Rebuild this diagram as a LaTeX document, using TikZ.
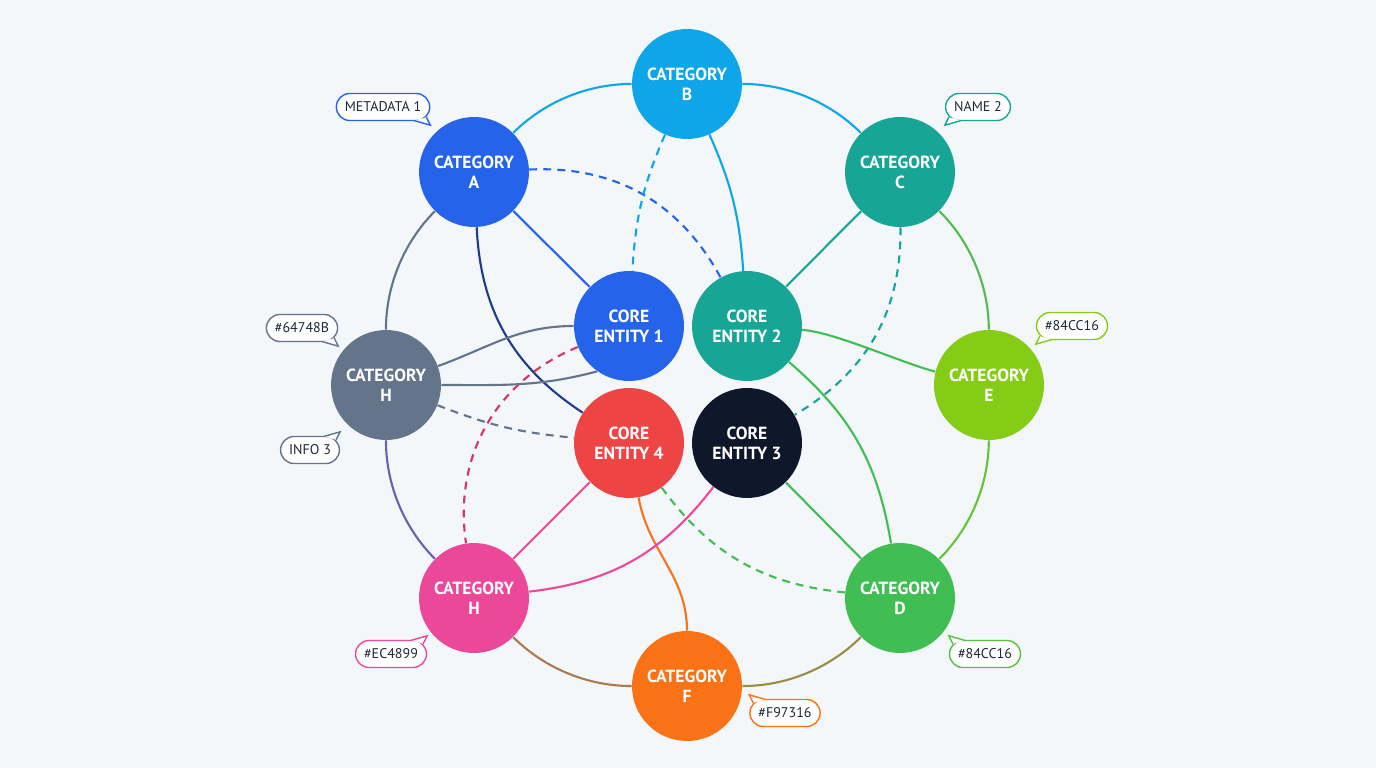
\documentclass[tikz,border=0pt]{standalone}
\usepackage{fontspec}
\setmainfont{PT Sans}
\usetikzlibrary{calc}
\definecolor{bgcolor}{RGB}{243,247,250}
\definecolor{blueA}{HTML}{2563EB}
\definecolor{skyB}{HTML}{0EA5E9}
\definecolor{tealC}{RGB}{23,166,149}
\definecolor{limeE}{HTML}{84CC16}
\definecolor{greenD}{RGB}{64,190,84}
\definecolor{slateH}{HTML}{64748B}
\definecolor{pinkH}{HTML}{EC4899}
\definecolor{orangeF}{HTML}{F97316}
\definecolor{redcore}{HTML}{EF4444}
\definecolor{darkcore}{HTML}{0F172A}
\definecolor{navyline}{HTML}{1E3A8A}
\definecolor{violetline}{RGB}{105,95,175}
\definecolor{crimsonline}{RGB}{214,51,108}
\definecolor{tagtext}{HTML}{1F2937}

% speech tail of a tag: corner anchor, x sign, y sign, colour
\newcommand{\tagtail}[4]{%
  \draw[#4, fill=white, line width=0.8pt] ($(#1)+({-16*(#2)},{-0.6*(#3)})$) -- ($(#1)+(0,{4*(#3)})$) -- ($(#1)+({-4*(#2)},{-4*(#3)})$);}

\begin{document}
\begin{tikzpicture}[
    x=0.02cm, y=0.02cm,
    hub/.style={circle, fill=#1, minimum size=2.2cm, inner sep=0pt, align=center, text=white, font=\bfseries\fontsize{10}{11.5}\selectfont},
    link/.style={draw=#1, line width=1.2pt},
    dlink/.style={draw=#1, line width=1.2pt, dash pattern=on 4.5pt off 3.5pt},
    ring/.style={draw=#1, line width=1.2pt, bend left=22.5, looseness=0.88},
    tag/.style={draw=#1, fill=white, line width=0.8pt, rounded corners=0.27cm, minimum height=0.54cm, inner xsep=0.17cm, text=tagtext, font=\fontsize{8}{9}\selectfont}
]
    \fill[bgcolor] (0,0) rectangle (1376,768);

    % outer categories
    \node[hub=skyB] (catB) at (687,684) {CATEGORY\\B};
    \node[hub=blueA] (catA) at (474,596) {CATEGORY\\A};
    \node[hub=tealC] (catC) at (900,596) {CATEGORY\\C};
    \node[hub=slateH] (catHg) at (386,383) {CATEGORY\\H};
    \node[hub=limeE] (catE) at (989,383) {CATEGORY\\E};
    \node[hub=pinkH] (catHp) at (474,170) {CATEGORY\\H};
    \node[hub=greenD] (catD) at (900,170) {CATEGORY\\D};
    \node[hub=orangeF] (catF) at (687,82) {CATEGORY\\F};

    % core entities
    \node[hub=blueA] (core1) at (629,442) {CORE\\ENTITY 1};
    \node[hub=tealC] (core2) at (747,442) {CORE\\ENTITY 2};
    \node[hub=redcore] (core4) at (629,325) {CORE\\ENTITY 4};
    \node[hub=darkcore] (core3) at (747,325) {CORE\\ENTITY 3};

    % ring
    \draw[ring=skyB] (catA) to (catB);
    \draw[ring=skyB] (catB) to (catC);
    \draw[ring={tealC!45!limeE}] (catC) to (catE);
    \draw[ring={limeE!50!greenD}] (catE) to (catD);
    \draw[ring={orangeF!55!greenD!80!slateH}] (catD) to (catF);
    \draw[ring={orangeF!55!slateH!90!greenD}] (catF) to (catHp);
    \draw[ring=violetline] (catHp) to (catHg);
    \draw[ring=slateH] (catHg) to (catA);

    % inner links
    \draw[link=blueA] (catA) -- (core1);
    \draw[link=navyline] (catA) to[bend right=27] (core4);
    \draw[dlink=blueA] (catA) to[bend left=32] (core2);
    \draw[dlink=skyB] (catB) to[bend right=10] (core1);
    \draw[link=skyB] (catB) to[bend left=10] (core2);
    \draw[link=tealC] (catC) -- (core2);
    \draw[dlink=tealC] (catC) to[bend left=30] (core3);
    \draw[link=greenD] (core2) to[out=-4, in=166, looseness=0.6] (catE);
    \draw[link=greenD] (core2) to[bend left=20] (catD);
    \draw[link=greenD] (core3) -- (catD);
    \draw[dlink=greenD] (core4) to[bend right=24] (catD);
    \draw[link=orangeF] (core4) to[out=-80, in=90] (catF);
    \draw[link=pinkH] (core4) -- (catHp);
    \draw[link=pinkH] (core3) to[bend left=23] (catHp);
    \draw[dlink=crimsonline] (core1) to[bend right=38] (catHp);
    \draw[link=slateH] (catHg) to[out=20, in=180] (core1);
    \draw[link=slateH] (catHg) to[out=0, in=195] (core1.235);
    \draw[dlink=slateH] (catHg) to[bend right=8] (core4);

    % tags
    \node[tag=blueA] (tagA) at (383,661) {METADATA 1};
    \tagtail{tagA.south east}{1}{-1}{blueA}
    \node[tag=tealC] (tagC) at (978,661) {NAME 2};
    \tagtail{tagC.south west}{-1}{-1}{tealC}
    \node[tag=limeE] (tagE) at (1072,442) {\#84CC16};
    \tagtail{tagE.south west}{-1}{-1}{limeE}
    \node[tag=slateH] (tagHg) at (302,440) {\#64748B};
    \tagtail{tagHg.south east}{1}{-1}{slateH}
    \node[tag=slateH] (tagInfo) at (310,318) {INFO 3};
    \tagtail{tagInfo.north east}{1}{1}{slateH}
    \node[tag=pinkH] (tagHp) at (391,114) {\#EC4899};
    \tagtail{tagHp.north east}{1}{1}{pinkH}
    \node[tag=greenD!70!limeE] (tagD) at (985,114) {\#84CC16};
    \tagtail{tagD.north west}{-1}{1}{greenD!70!limeE}
    \node[tag=orangeF] (tagF) at (785,55) {\#F97316};
    \tagtail{tagF.north west}{-1}{1}{orangeF}
\end{tikzpicture}
\end{document}
